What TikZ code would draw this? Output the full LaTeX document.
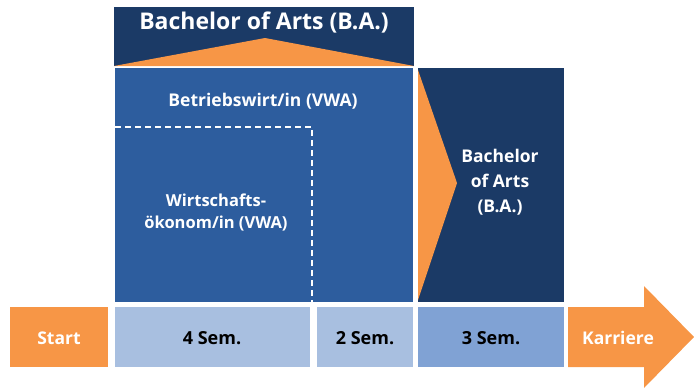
\documentclass[tikz,border=0pt]{standalone}
\usepackage{fontspec}
\setmainfont{Open Sans}
\usetikzlibrary{positioning}

\definecolor{navy}{HTML}{1B3A66}
\definecolor{midblue}{HTML}{2D5D9E}
\definecolor{paleblue}{HTML}{A8BFE0}
\definecolor{semblue}{HTML}{80A2D4}
\definecolor{orng}{HTML}{F79646}

\tikzset{
    headlbl/.style={text=white, font=\bfseries\fontsize{23}{27}\selectfont},
    boxlbl/.style={text=white, align=center, font=\bfseries\fontsize{17.5}{25}\selectfont},
    semlbl/.style={text=black, font=\bfseries\fontsize{18}{20}\selectfont},
    endlbl/.style={text=white, font=\bfseries\fontsize{17.5}{20}\selectfont},
}

\begin{document}
\begin{tikzpicture}[x=1pt, y=-1pt]
    \useasboundingbox (0,0) rectangle (694,388);

    % Degree header
    \fill[navy] (114,7) rectangle (414,66);
    \fill[orng] (114,66) -- (265,38) -- (414,66) -- cycle;
    \node[headlbl] (head) at (264,23) {Bachelor of Arts (B.A.)};

    % Betriebswirt block
    \fill[midblue] (115,68) rectangle (413,302);
    \draw[white, line width=1.6pt, dash pattern=on 6pt off 4pt] (115,127) -- (312,127) -- (312,302);
    \node[boxlbl] (bw) at (263,101) {Betriebswirt/in (VWA)};
    \node[boxlbl, font=\bfseries\fontsize{16.5}{22}\selectfont] (wo) at (216,212) {Wirtschafts-\\ökonom/in (VWA)};

    % Bachelor block
    \fill[navy] (418,68) rectangle (564,302);
    \fill[orng] (418,70) -- (457,183) -- (418,300) -- cycle;
    \node[boxlbl] (ba) at (500,182) {Bachelor\\of Arts\\(B.A.)};

    % Timeline
    \fill[orng] (10,307) rectangle (108,367);
    \fill[paleblue] (115,307) rectangle (310,367);
    \fill[paleblue] (317,307) rectangle (413,367);
    \fill[semblue] (418,307) rectangle (564,367);
    \fill[orng] (568,307) -- (644,307) -- (644,286) -- (694,337) -- (644,388)
        -- (644,367) -- (568,367) -- cycle;

    \node[endlbl] (start) at (59,338) {Start};
    \node[semlbl] (s4) at (212,338) {4 Sem.};
    \node[semlbl] (s2) at (365,338) {2 Sem.};
    \node[semlbl] (s3) at (491,338) {3 Sem.};
    \node[endlbl] (job) at (618,338) {Karriere};
\end{tikzpicture}
\end{document}
